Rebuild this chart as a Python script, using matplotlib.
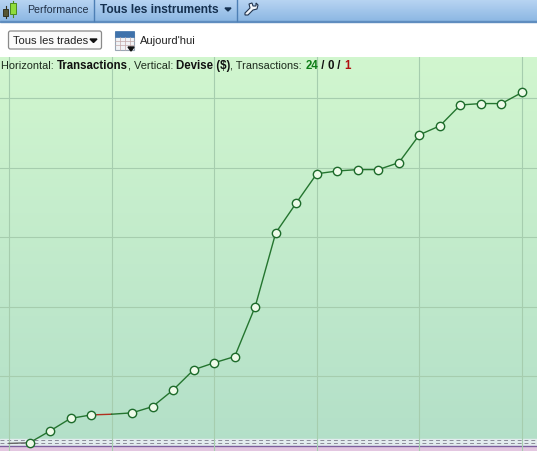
import numpy as np
import matplotlib
matplotlib.use('Agg')
import matplotlib.pyplot as plt
from matplotlib.patches import Rectangle, FancyBboxPatch, Polygon

# numero de transaction / resultat cumule ($)
trades = [1, 2, 3, 4, 6, 7, 8, 9, 10, 11, 12, 13, 14, 15, 16, 17, 18, 19, 20, 21, 22, 23, 24, 25]
equity = [4, 21, 39, 44, 47, 56, 80, 109, 119, 128, 200, 306, 349, 391, 395, 397, 397, 407,
          447, 460, 490, 492, 492, 508]
loss_x = [4, 5]
loss_y = [44, 45]
start_x = [0, 1]
start_y = [3, 4]
grid_x = [0, 5, 10, 15, 20, 25]
grid_y = [100, 200, 300, 400, 500]

W, H = 537, 451
plt.rcParams['font.family'] = ['Liberation Sans', 'DejaVu Sans']
fig = plt.figure(figsize=(W / 100, H / 100), dpi=100, facecolor='white')

# zone du graphique
ax = fig.add_axes([0, 0, 1, (H - 57) / H])
ax.set_xlim(-9 / 20.52, (W - 9) / 20.52)
ax.set_ylim((445.5 - H) / 0.695, (445.5 - 57) / 0.695)
ax.axis('off')

grad = np.linspace(0, 1, 256).reshape(-1, 1)
top = np.array([0.82, 0.965, 0.81])
bottom = np.array([0.70, 0.875, 0.785])
img = top + (bottom - top) * grad[:, :, None]
ax.imshow(img, extent=[ax.get_xlim()[0], ax.get_xlim()[1], ax.get_ylim()[0], ax.get_ylim()[1]],
          aspect='auto', zorder=0)
ax.axhspan(ax.get_ylim()[0], 0, color='#e3c6e0', zorder=1)
ax.axhspan(0, 9, color='#e2ecee', zorder=1)
ax.axhline(0, color='#7d5f9e', lw=1, zorder=2)
ax.axhline(8, color='#8a8a98', lw=0.7, ls=(0, (4, 3)), zorder=2)
ax.axhline(4, color='#8a8a98', lw=0.7, ls=(0, (4, 3)), zorder=2)

for gx in grid_x:
    ax.axvline(gx, color='#a6cdae', lw=0.8, zorder=2)
for gy in grid_y:
    ax.axhline(gy, color='#a6cdae', lw=0.8, zorder=2)

ax.plot(start_x, start_y, color='#666666', lw=1, zorder=3)
ax.plot(trades[:4], equity[:4], color='#24752f', lw=1, zorder=3)
ax.plot(loss_x, loss_y, color='#b03020', lw=1, zorder=3)
ax.plot([5, 6], [45, 47], color='#24752f', lw=1, zorder=3)
ax.plot(trades[4:], equity[4:], color='#24752f', lw=1, zorder=3)
ax.plot(trades, equity, ls='none', marker='o', ms=6, mfc='#eefbe9', mec='#1c6a2a', mew=1, zorder=4)

# bandeau du haut et barre d'outils
over = fig.add_axes([0, 0, 1, 1], zorder=5)
over.axis('off')
over.patch.set_alpha(0)

c1 = np.array([0.72, 0.83, 0.95])
c2 = np.array([0.55, 0.72, 0.89])
band = c1 + (c2 - c1) * grad[:, :, None]
over.imshow(band, extent=[0, W, 21, 0], aspect='auto', zorder=1)
over.set_xlim(0, W)
over.set_ylim(H, 0)
over.add_patch(Rectangle((0, 21), W, 1, color='#5f8dbf', zorder=2))
for sx in (94, 237):
    over.plot([sx, sx], [0, 21], color='#4d7fb5', lw=1, zorder=2)

# petite icone chandeliers
over.add_patch(Rectangle((3, 9), 5, 7, fc='#555533', ec='#333322', lw=0.7, zorder=3))
over.add_patch(Rectangle((10, 3), 6, 11, fc='#8fdc3c', ec='#4b8a20', lw=0.7, zorder=3))
over.plot([5.5, 5.5], [6, 18], color='#333322', lw=0.8, zorder=2.5)
over.plot([13, 13], [1, 17], color='#4b8a20', lw=0.8, zorder=2.5)

over.text(27, 13, 'Performance', fontsize=7.7, color='#1f2f45', va='baseline', zorder=4)
over.text(100, 13, 'Tous les instruments', fontsize=8.6, fontweight='bold', color='#15304f',
          va='baseline', zorder=4)
over.fill([225, 231, 228], [8, 8, 11], color='#15304f', zorder=4)
# cle
wrench = [(245, 13), (250, 8), (249, 4), (252, 3), (253, 6), (256, 6), (256, 3), (258, 5),
          (257, 9), (253, 10), (248, 15), (245, 15)]
over.add_patch(Polygon(wrench, closed=True, fc='#f2f6fb', ec='#20344f', lw=0.8, zorder=4))

# liste deroulante
over.add_patch(FancyBboxPatch((8.5, 31), 93, 18, boxstyle='round,pad=0,rounding_size=2',
                              fc='#fafafa', ec='#8a8a8a', lw=0.9, zorder=3))
over.text(13, 44, 'Tous les trades', fontsize=8.0, color='#222222', va='baseline', zorder=4)
over.fill([90, 97, 93.5], [39, 39, 42.5], color='#111111', zorder=4)

# calendrier
over.add_patch(Rectangle((115, 32), 19, 18, fc='#f1f3f6', ec='#9aa6b4', lw=0.8, zorder=3))
over.add_patch(Rectangle((115, 31), 19, 6, fc='#3f72ab', ec='#3f72ab', lw=0.5, zorder=3.2))
for cx in (120, 125, 130):
    over.plot([cx, cx], [37, 50], color='#c3a8a8', lw=0.5, zorder=3.3)
for cy in (41, 45):
    over.plot([115, 134], [cy, cy], color='#c3a8a8', lw=0.5, zorder=3.3)
over.fill([128, 134, 131], [47, 47, 51], color='#111111', zorder=4)
over.text(140, 44, "Aujourd'hui", fontsize=8.0, color='#222222', va='baseline', zorder=4)

# ligne d'info (segments places a la suite)
parts = [('Horizontal: ', 'normal', '#1d2b1d'), ('Transactions', 'bold', '#111111'),
         (', Vertical: ', 'normal', '#1d2b1d'), ('Devise ($)', 'bold', '#111111'),
         (', Transactions: ', 'normal', '#1d2b1d'), ('24', 'bold', '#0e7d18'),
         (' / ', 'bold', '#111111'), ('0', 'bold', '#111111'), (' / ', 'bold', '#111111'),
         ('1', 'bold', '#b01010')]
x = 1
r = fig.canvas.get_renderer()
for s, w, c in parts:
    size = 8.3 if w == 'bold' else 7.9
    t = over.text(x, 69, s, fontsize=size, fontweight=w, color=c, va='baseline', zorder=4)
    x += t.get_window_extent(r).width

fig.savefig('out.png', dpi=100)
